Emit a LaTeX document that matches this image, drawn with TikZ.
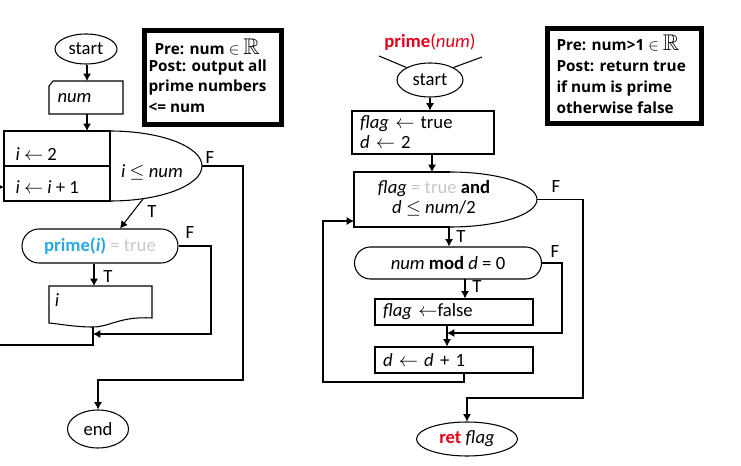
\documentclass[tikz,border=0pt]{standalone}
\usepackage{amssymb}
\usepackage{fontspec}
\setmainfont{Carlito}
\newfontfamily\notefont{Open Sans}[BoldFont={* Bold}]
\usetikzlibrary{shapes.geometric,shapes.misc,arrows.meta,calc}
\definecolor{primeblue}{HTML}{29A9E1}
\definecolor{truegray}{HTML}{C8C8C8}
\definecolor{retred}{HTML}{E3001B}
\tikzset{
    term box/.style 2 args = {
        shape = ellipse,
        draw,
        inner sep = 0pt,
        minimum width=#1,
        minimum height=#2
    },
    cond box/.style 2 args = {
        shape = rounded rectangle,
        draw,
        inner sep = 0pt,
        minimum width=#1,
        minimum height=#2
    },
    act box/.style 2 args = {
        shape = rectangle,
        draw,
        align = left,
        inner xsep = 6pt,
        inner ysep = 0pt,
        text width=#1,
        minimum height=#2
    },
    note box/.style 2 args = {
        shape = rectangle,
        draw,
        line width = 3.75pt,
        inner sep = 0pt,
        minimum width=#1,
        minimum height=#2
    },
    note text/.style = {
        anchor = base west,
        inner sep = 0pt,
        font = \notefont\fontsize{11.5}{14}\selectfont\bfseries
    },
    plain text/.style = {
        inner sep = 0pt
    }
}

\begin{document}
\begin{tikzpicture}[x=0.75pt, y=-0.75pt, thick, >={Latex[length=5.5pt,width=6pt]}, font=\fontsize{14}{15}\selectfont]
      \useasboundingbox (0,0) rectangle (741,466);

      % left chart
      \node (start1) at (86,49) [term box = {46.5pt}{22.5pt}] {start};
      \draw (49,86) -- (53,81) -- (123,81) -- (123,114) -- (49,114) -- cycle;
      \node (num) at (57,98) [plain text, anchor=west] {\textit{num}};
      \coordinate (num-top) at (87,81);
      \coordinate (num-bot) at (87,114);
      \draw[->] (start1.south -| num-top) -- (num-top);

      \draw (110,131) -- (4,131) -- (4,201) -- (110,201) -- cycle;
      \draw (4,166) -- (110,166);
      \draw (110,131) arc[start angle=-90, end angle=90, x radius=92, y radius=35];
      \node (init1) at (15,154) [plain text, anchor=west] {\textit{i} $\leftarrow$ 2};
      \node (step1) at (15,187) [plain text, anchor=west] {\textit{i} $\leftarrow$ \textit{i} + 1};
      \node (cond1) at (152,172) {\textit{i} $\le$ \textit{num}};
      \coordinate (loop-top) at (87,131);
      \coordinate (loop-in) at (4,187);
      \coordinate (loop-f) at (202,166);
      \coordinate (loop-t) at (143,199);
      \draw[->] (num-bot) -- (loop-top);

      \node (isprime) at (100,246) [cond box = {117pt}{25.5pt}] {\textcolor{primeblue}{\textbf{prime(\textit{i})}} \textcolor{truegray}{= true}};
      \draw[->] (loop-t) -- ([xshift=15pt]isprime.north);

      \draw (49,286) -- (152,286) -- (152,318) .. controls (120,316) and (110,327) .. (93,327) .. controls (75,327) and (60,324) .. (49,323) -- cycle;
      \node (outi) at (57,300) [plain text] {\textit{i}};
      \coordinate (out-top) at (94,286);
      \coordinate (out-bot) at (93,327);
      \coordinate (join1) at (93,334);
      \draw[->] (isprime.south -| out-top) -- (out-top);
      \draw[->] (isprime.east) -- (211,246) -- (211,334) -- (join1);
      \draw[->] (out-bot) -- (93,345) -- (-6,345) |- (loop-in);

      \node (end) at (98,429) [term box = {45.75pt}{28.5pt}] {end};
      \draw[->] (loop-f) -- (243,166) -- (243,380) -| (end);

      \node (f1) at (210,158) {F};
      \node (t1) at (152,212) {T};
      \node (f2) at (190,233) {F};
      \node (t2) at (108,277) {T};

      \node (note1) at (213,77.5) [note box = {103.2pt}{70pt}] {};
      \node (note1-a) at (154,55) [note text] {Pre: num $\in$ {\fontsize{17}{17}\selectfont$\mathbb{R}$}};
      \node (note1-b) at (148,72) [note text] {Post: output all};
      \node (note1-c) at (148,92) [note text] {prime numbers};
      \node (note1-d) at (148,113) [note text] {<= num};

      % right chart
      \node (sig) at (430,42) {\textcolor{retred}{\textbf{prime}(\textit{num})}};
      \node (start2) at (430,80) [term box = {49.5pt}{25.5pt}] {start};
      \coordinate (sig-l) at (379,56);
      \coordinate (sig-r) at (482,57);
      \draw (sig-l) -- (start2.152);
      \draw (sig-r) -- (start2.28);

      \node (init2) at (423,132.5) [act box = {94.5pt}{32.25pt}] {\textit{flag} $\leftarrow$ true\\ \textit{d} $\leftarrow$ 2};
      \draw[->] (start2) -- (start2 |- init2.north);

      \draw (450,172) -- (354,172) -- (354,227) -- (450,227);
      \draw (450,172) arc[start angle=-90, end angle=90, x radius=87, y radius=27.5];
      \node (cond2) at (434,198) [align=center] {\textit{flag} \textcolor{truegray}{= true} \textbf{and}\\ \textit{d} $\le$ \textit{num}/2};
      \coordinate (while-top) at (432,172);
      \coordinate (while-in) at (354,221);
      \coordinate (while-f) at (537,199.5);
      \coordinate (while-t) at (449,227);
      \draw[->] (init2.south -| while-top) -- (while-top);

      \node (modd) at (448,263) [cond box = {140.25pt}{24pt}] {\textit{num} \textbf{mod} \textit{d} = 0};
      \draw[->] (while-t) -- (while-t |- modd.north);
      \coordinate (mod-t) at (465,279);

      \node (setf) at (454,312) [act box = {106.5pt}{19.5pt}] {\textit{flag} $\leftarrow$false};
      \node (incd) at (454,360) [act box = {106.5pt}{19.5pt}] {\textit{d} $\leftarrow$ \textit{d} + 1};
      \coordinate (join2) at (447,333);
      \coordinate (incd-out) at (464,373);
      \draw[->] (mod-t) -- (mod-t |- setf.north);
      \draw[->] (setf.south -| join2) -- (incd.north -| join2);
      \draw[->] (modd.east) -- (562,263) -- (562,333) -- (join2);
      \draw[->] (incd-out) -- (464,382) -- (323,382) |- (while-in);

      \node (ret) at (467,439) [term box = {75.75pt}{25.5pt}] {\textcolor{retred}{\textbf{ret}} \textit{flag}};
      \draw[->] (while-f) -- (583,199.5) -- (583,398) -| (ret);

      \node (f3) at (556,187) {F};
      \node (t3) at (461,237) {T};
      \node (f4) at (555,252) {F};
      \node (t4) at (477,287) {T};

      \node (note2) at (624.5,76) [note box = {115.5pt}{71.25pt}] {};
      \node (note2-a) at (556,51) [note text] {Pre: num>1 $\in$ {\fontsize{17}{17}\selectfont$\mathbb{R}$}};
      \node (note2-b) at (556,72) [note text] {Post: return true};
      \node (note2-c) at (556,93) [note text] {if num is prime};
      \node (note2-d) at (556,114) [note text] {otherwise false};
    \end{tikzpicture}
\end{document}
